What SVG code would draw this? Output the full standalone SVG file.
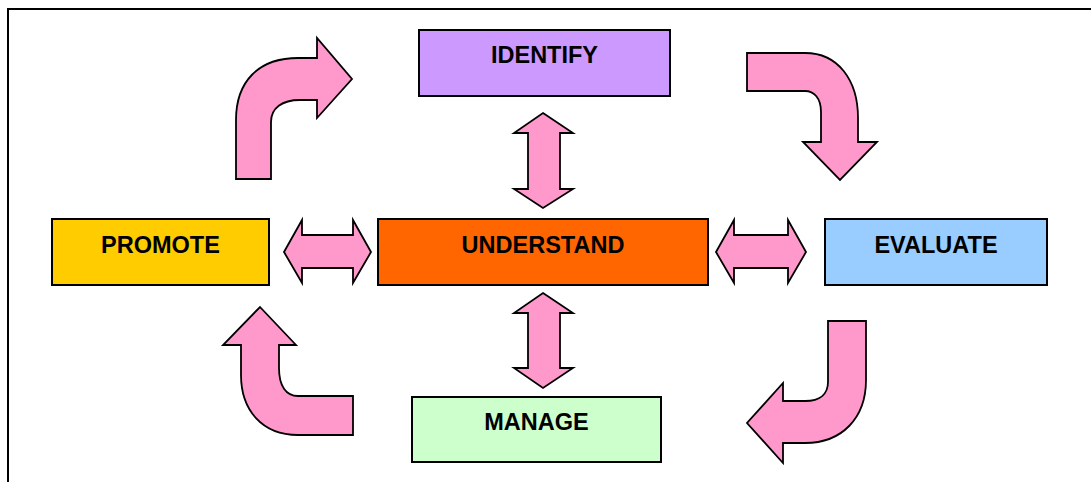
<svg xmlns="http://www.w3.org/2000/svg" width="1091" height="482" viewBox="0 0 1091 482">
<style>
.frame{fill:none;stroke:#000;stroke-width:2}
.box{stroke:#000;stroke-width:2}
.arr{fill:#FF99CC;stroke:#000;stroke-width:1.8;stroke-linejoin:miter}
.lbl{font-family:"Liberation Sans",Arial,sans-serif;font-weight:bold;font-size:23.5px;fill:#000;text-anchor:middle}
</style>
<rect width="1091" height="482" fill="#fff"/>
<path class="frame" d="M8,482 V9 H1091"/>
<g id="connectors">
<path class="arr" d="M236,179 L236,120 C236,82 258,58 298,58 L317,58 L317,38 L352,79 L317,118 L317,100 L300,100 C282,100 271,108 271,122 L271,179 Z"/>
<path class="arr" d="M747,53 L805,53 C838,53 858,80 858,118 L858,142 L877,142 L840,180 L803,142 L821,142 L821,112 C821,98 814,91 805,91 L747,91 Z"/>
<path class="arr" d="M260,307 L296,345 L279,345 L279,368 C279,386 286,396 298,396 L353,396 L353,435 L298,435 C262,435 241,410 241,375 L241,345 L223,345 Z"/>
<path class="arr" d="M828,321 L866,321 L866,380 C866,418 842,443 805,443 L783,443 L783,463 L747,423 L783,383 L783,401 L805,401 C820,401 828,394 828,382 Z"/>
<path class="arr" d="M284,252 L302,220 L302,235 L353,235 L353,220 L371,252 L353,283 L353,268 L302,268 L302,283 Z"/>
<path class="arr" d="M716,252 L734,220 L734,235 L788,235 L788,220 L806,252 L788,283 L788,268 L734,268 L734,283 Z"/>
<path class="arr" d="M543,113 L573,133 L560,133 L560,189 L573,189 L543,208 L514,189 L528,189 L528,133 L514,133 Z"/>
<path class="arr" d="M543,293 L573,313 L560,313 L560,368 L573,368 L543,388 L514,368 L528,368 L528,313 L514,313 Z"/>
</g>
<g id="identify">
<rect class="box" x="419" y="30" width="251" height="66" fill="#CC99FF"/>
<text class="lbl" x="544.5" y="63">IDENTIFY</text>
</g>
<g id="promote">
<rect class="box" x="52" y="219" width="217" height="66" fill="#FFCC00"/>
<text class="lbl" x="160.5" y="253">PROMOTE</text>
</g>
<g id="understand">
<rect class="box" x="378" y="219" width="330" height="66" fill="#FF6600"/>
<text class="lbl" x="543" y="253">UNDERSTAND</text>
</g>
<g id="evaluate">
<rect class="box" x="825" y="219" width="222" height="66" fill="#99CCFF"/>
<text class="lbl" x="936" y="253">EVALUATE</text>
</g>
<g id="manage">
<rect class="box" x="412" y="397" width="249" height="65" fill="#CCFFCC"/>
<text class="lbl" x="536.5" y="430">MANAGE</text>
</g>
</svg>
